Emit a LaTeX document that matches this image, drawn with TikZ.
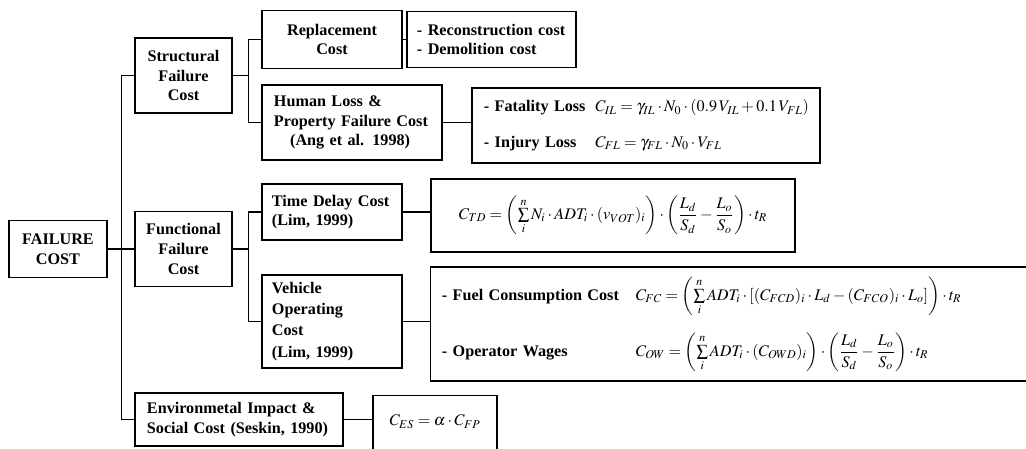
\documentclass[tikz,border=0pt]{standalone}
\usepackage{amsmath}
\usepackage{mathptmx}
\usepackage{fontspec}
\setmainfont{Liberation Serif}

\begin{document}
\begin{tikzpicture}[x=0.025cm,y=-0.025cm,line width=.8pt,
	box/.style={draw,inner sep=0pt,font=\bfseries\fontsize{11.5}{14}\selectfont},
	cbox/.style={box,align=center},
	lbox/.style={box,align=left,inner xsep=.3cm}]
		\clip (0,0) rectangle (1026,448);
		\node[cbox,minimum width=2.45cm,minimum height=1.425cm] (fail) at (58,249) {FAILURE\\COST};
		\node[cbox,minimum width=2.425cm,minimum height=1.875cm] (struct) at (183.5,75.5) {Structural\\Failure\\Cost};
		\node[cbox,minimum width=2.425cm,minimum height=1.875cm] (func) at (183.5,249) {Functional\\Failure\\Cost};
		\node[lbox,text width=4.6cm,minimum height=1.325cm] (env) at (239,419.5) {Environmetal Impact \&\\Social Cost (Seskin, 1990)};
		\node[cbox,minimum width=3.5cm,minimum height=1.45cm] (repl) at (332,39.5) {Replacement\\Cost};
		\node[lbox,text width=3.9cm,minimum height=1.875cm] (human) at (352,122.5) {Human Loss \&\\Property Failure Cost\\\hspace*{1em}(Ang et al. 1998)};
		\node[lbox,inner xsep=.25cm,text width=3.0cm,minimum height=1.4cm] (delay) at (332,212) {Time Delay Cost\\(Lim, 1999)};
		\node[lbox,inner xsep=.25cm,text width=3.0cm,minimum height=2.325cm] (vehicle) at (332,321.5) {Vehicle\\[1pt]Operating\\[1pt]Cost\\[1pt](Lim, 1999)};
		\node[lbox,inner xsep=.25cm,text width=3.725cm,minimum height=1.4cm] (recon) at (491.5,39.5) {- Reconstruction cost\\- Demolition cost};
		\node[lbox,inner xsep=.3cm,text width=8.1cm,minimum height=1.875cm] (fatal) at (646,125.5) {\begin{tabular}{@{}l@{\hspace{7pt}}l@{}}
			- Fatality Loss & $C_{IL}=\gamma_{IL}\cdot N_0\cdot(0.9\,V_{IL}+0.1\,V_{FL})$\\[11pt]
			- Injury Loss & $C_{FL}=\gamma_{FL}\cdot N_0\cdot V_{FL}$
		\end{tabular}};
		\node[cbox,minimum width=9.1cm,minimum height=1.825cm] (tdf) at (613,215.5) {$C_{TD}=\left(\sum\limits_i^n N_i\cdot ADT_i\cdot(v_{VOT})_i\right)\cdot\left(\dfrac{L_d}{S_d}-\dfrac{L_o}{S_o}\right)\cdot t_R$};
		\node[lbox,inner xsep=.275cm,text width=14.675cm,minimum height=2.85cm] (vof) at (735.5,324) {\begin{tabular}{@{}l@{\hspace{12pt}}l@{}}
			- Fuel Consumption Cost & $C_{FC}=\left(\sum\limits_i^n ADT_i\cdot[(C_{FCD})_i\cdot L_d-(C_{FCO})_i\cdot L_o]\right)\cdot t_R$\\[19pt]
			- Operator Wages & $C_{OW}=\left(\sum\limits_i^n ADT_i\cdot(C_{OWD})_i\right)\cdot\left(\dfrac{L_d}{S_d}-\dfrac{L_o}{S_o}\right)\cdot t_R$
		\end{tabular}};
		\node[cbox,minimum width=3.1cm,text height=.75cm,text depth=.875cm,anchor=north] (esf) at (435,395) {$C_{ES}=\alpha\cdot C_{FP}$};
		\draw (fail) -- (func);
		\draw (struct.west) -| ([xshift=-.325cm]func.west) |- (env.west);
		\draw (struct.east) -- ([xshift=.4cm]struct.east);
		\draw (repl.west) -| ([xshift=.4cm]struct.east) |- (human.west);
		\draw (func.east) -- ([xshift=.4cm]func.east);
		\draw (delay.west) -| ([xshift=.4cm]func.east) |- (vehicle.west);
		\draw (repl) -- (recon);
		\draw (human.east) -- (human.east -| fatal.west);
		\draw (delay.east) -- (delay.east -| tdf.west);
		\draw (vehicle.east) -- (vehicle.east -| vof.west);
		\draw (env.east) -- (env.east -| esf.west);
\end{tikzpicture}
\end{document}
